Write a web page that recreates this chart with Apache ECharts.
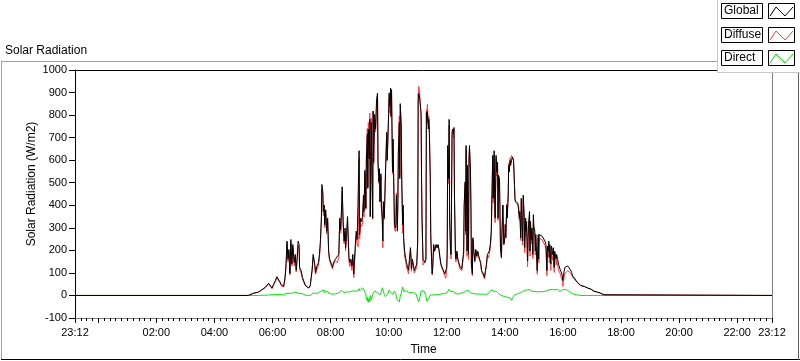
<!DOCTYPE html>
<html><head><meta charset="utf-8">
<script src="https://cdn.jsdelivr.net/npm/echarts@6/dist/echarts.min.js"></script>
<style>html,body{margin:0;padding:0;background:#fff}#c{width:800px;height:361px}</style>
</head><body><div id="c"></div>
<script>
// time in minutes from 00:00 (axis runs 23:12 of previous day -> 23:12)
const times = [-48,310,
311,321,331,338,345,352,356,359,362,366,
369,373,375,378,380,383,386,388,390,392,
394,396,398,400,402,405,407,409,411,413,
415,416,419,422,424,428,431,435,438,440,
442,444,447,449,452,455,457,459,461,462,
464,465,467,468,470,472,474,476,478,480,
482,484,486,490,
494,497,499,501,503,504,506,508,510,511,
513,515,518,520,522,524,526,528,529,531,
533,535,537,539,540,542,544,546,548,549,
551,553,554,556,557,558,560,561,562,564,
565,567,568,569,571,573,575,577,578,580,
581,582,584,585,587,588,589,591,593,594,
596,597,598,600,601,602,604,605,606,608,
609,611,612,614,615,616,618,619,620,622,
623,624,626,627,629,630,631,633,635,637,
639,641,643,645,646,647,649,651,653,656,
658,660,661,662,664,665,667,
668,669,671,673,675,677,678,679,680,682,
683,684,686,687,689,690,691,693,695,698,
700,702,704,706,708,710,712,714,716,718,
720,721,722,724,725,726,728,729,731,732,
734,735,736,738,739,741,743,745,747,749,
751,753,755,756,758,759,760,762,763,765,
766,767,769,770,771,773,774,776,778,780,
782,784,786,788,790,792,794,796,798,800,
802,804,806,808,810,812,813,815,816,818,
819,820,822,823,825,826,827,829,830,831,
833,834,836,837,838,840,841,842,844,845,
847,848,849,851,852,
854,856,858,860,861,862,864,867,869,870,
871,873,874,875,877,878,880,881,883,884,
885,887,888,889,891,892,893,895,896,898,
899,900,902,903,904,906,907,909,910,911,
913,915,917,919,921,923,925,927,928,929,
931,932,933,935,936,938,939,940,942,943,
945,946,947,949,950,951,953,954,956,957,
958,960,961,962,964,966,968,970,972,974,
976,978,980,982,985,987,990,993,997,1000,
1004,1007,1011,1014,1018,1021,1024,1028,1031,1035,
1038,1042,1045,1049,
1392];

const globalVals = [0,0,
0,10,15,25,36,54,48,33,48,66,
83,80,62,48,54,40,80,139,241,161,
204,98,248,139,226,146,182,112,168,241,
226,124,112,80,73,44,40,33,44,80,
117,182,146,102,131,146,182,241,343,492,
460,372,401,314,380,285,343,197,161,168,
139,124,146,161,
153,182,343,292,409,482,328,241,299,212,
270,350,168,146,161,131,182,95,146,219,
285,248,241,642,270,343,328,350,445,372,
555,387,606,716,475,738,606,781,350,767,
606,343,818,591,803,738,869,898,591,504,
562,416,540,394,343,241,416,343,504,577,
723,599,665,811,898,840,920,796,913,548,
694,445,314,299,314,445,285,401,621,767,
518,847,752,518,314,401,256,197,168,146,
124,112,161,212,182,117,161,139,110,102,
139,241,869,898,876,854,811,
518,343,161,153,146,161,811,767,818,738,
781,738,518,270,139,95,124,226,197,226,
212,226,204,168,139,131,117,110,95,88,
124,197,665,518,781,343,197,182,723,738,
716,745,445,182,161,197,161,146,131,124,
117,124,197,401,504,285,665,197,577,182,
606,665,562,401,139,95,256,197,153,204,
175,197,175,168,146,110,102,95,80,110,
139,182,175,197,226,285,401,621,431,642,
431,343,621,548,591,343,533,518,372,212,
168,270,401,299,226,256,314,256,401,343,
445,577,548,599,577,
599,613,599,489,431,419,416,409,401,343,
372,256,431,358,241,445,358,212,343,285,
328,153,256,314,372,197,328,248,299,182,
358,306,285,197,270,270,110,270,161,270,
277,270,263,263,256,241,226,110,219,197,
241,168,226,139,219,226,182,212,124,197,
190,161,182,161,168,139,139,117,110,124,
95,66,88,95,124,124,121,131,135,124,
112,102,88,80,73,66,58,51,44,41,
40,36,33,29,28,25,19,18,15,13,
10,6,3,0,
0];

const diffuseVals = [0,0,
0,10,15,24,35,52,44,30,44,62,
78,76,59,44,51,38,74,130,233,149,
194,91,234,130,214,131,172,104,156,221,
212,115,100,72,69,43,40,33,43,78,
111,170,136,94,116,134,164,227,323,470,
445,354,377,300,360,273,325,187,153,156,
129,118,138,154,
145,170,325,278,387,462,313,229,281,198,
254,328,153,128,147,111,158,79,126,191,
263,230,216,612,250,317,306,316,417,348,
541,382,616,741,483,768,621,809,350,787,
618,338,816,581,783,724,844,886,573,496,
547,414,528,388,309,211,396,338,509,587,
723,607,660,801,874,810,905,788,895,538,
690,433,294,284,306,455,305,413,646,796,
533,852,742,498,276,373,238,175,153,126,
112,96,149,194,168,107,147,127,100,94,
124,231,889,927,901,859,791,
490,313,135,133,134,161,826,792,847,758,
793,743,516,265,137,92,122,222,195,223,
210,222,201,166,134,123,111,100,87,76,
114,183,647,496,753,319,179,162,697,724,
698,733,435,174,149,187,155,138,119,114,
109,112,183,391,492,269,645,173,559,160,
590,651,550,393,129,87,250,189,147,199,
169,193,170,162,141,106,96,87,74,105,
131,176,167,185,211,260,372,599,411,624,
416,323,607,530,579,333,525,512,368,210,
168,268,401,302,228,261,317,262,405,351,
450,587,560,611,592,
621,623,603,487,427,413,408,401,391,333,
360,244,417,343,223,425,336,190,319,263,
304,127,228,285,346,175,308,228,280,164,
339,288,267,180,253,254,94,254,146,255,
261,253,247,245,239,222,206,88,195,171,
216,144,200,111,193,199,156,188,102,172,
163,135,158,134,140,113,117,99,94,104,
71,40,61,67,98,97,97,109,115,108,
100,92,80,74,69,63,56,50,44,41,
40,36,33,29,28,25,19,18,15,13,
10,6,3,0,
0];

const directVals = [0,0,
0,0,0,1,1,2,4,3,4,4,
5,4,3,4,3,2,6,9,8,12,
10,7,14,9,12,15,10,8,12,20,
14,9,12,8,4,1,0,0,1,2,
6,12,10,8,15,12,18,14,20,22,
15,18,24,14,20,12,18,10,8,12,
10,6,8,7,
8,12,18,14,22,20,15,12,18,14,
16,22,15,18,14,20,24,16,20,28,
22,18,25,30,20,26,22,34,28,24,
14,5,-10,-25,-8,-30,-15,-28,0,-20,
-12,5,2,10,20,14,25,12,18,8,
15,2,12,6,34,30,20,5,-5,-10,
0,-8,5,10,24,30,15,8,18,10,
4,12,20,15,8,-10,-20,-12,-25,-29,
-15,-5,10,20,38,28,18,22,15,20,
12,16,12,18,14,10,14,12,10,8,
15,10,-20,-29,-25,-5,20,
28,30,26,20,12,0,-15,-25,-29,-20,
-12,-5,2,5,2,3,2,4,2,3,
2,4,3,2,5,8,6,10,8,12,
10,14,18,22,28,24,18,20,26,14,
18,12,10,8,12,10,6,8,12,10,
8,12,14,10,12,16,20,24,18,22,
16,14,12,8,10,8,6,8,6,5,
6,4,5,6,5,4,6,8,6,5,
8,6,8,12,15,25,29,22,20,18,
15,20,14,18,12,10,8,6,4,2,
0,2,0,-3,-2,-5,-3,-6,-4,-8,
-5,-10,-12,-12,-15,
-22,-10,-4,2,4,6,8,8,10,10,
12,12,14,15,18,20,22,22,24,22,
24,26,28,29,26,22,20,20,19,18,
19,18,18,17,17,16,16,16,15,15,
16,17,16,18,17,19,20,22,24,26,
25,24,26,28,26,27,26,24,22,25,
27,26,24,27,28,26,22,18,16,20,
24,26,27,28,26,27,24,22,20,16,
12,10,8,6,4,3,2,1,0,0,
0,0,0,0,0,0,0,0,0,0,
0,0,0,0,
0];

const xMin = -48, xMax = 1392, minorStep = 12;
const xTickValues = [-48,0,120,240,360,480,600,720,840,960,1080,1200,1320,1392];
const xLabelValues = [-48,120,240,360,480,600,720,840,960,1080,1200,1320,1392];
const yMin = -100, yMax = 1000, yStep = 100;
const legendNames = ['Global','Diffuse','Direct'];
const legendColors = ['#000000','#ff3b3b','#00e600'];

function fmtTime(v){
  let m = ((v % 1440) + 1440) % 1440;
  const h = Math.floor(m/60), mm = Math.round(m%60);
  return String(h).padStart(2,'0') + ':' + String(mm).padStart(2,'0');
}
const pairs = arr => times.map((t,i)=>[t, arr[i]]);

const FONT = 'Liberation Sans';
const chart = echarts.init(document.getElementById('c'), null, {renderer:'canvas'});

const graphics = [
  {type:'line', z:50, shape:{x1:1.5,y1:61.5,x2:1.5,y2:359.5}, style:{stroke:'#a0a0a0',lineWidth:1}},
  {type:'line', z:50, shape:{x1:1,y1:61.5,x2:717,y2:61.5}, style:{stroke:'#a0a0a0',lineWidth:1}},
  {type:'line', z:50, shape:{x1:1,y1:359.5,x2:800,y2:359.5}, style:{stroke:'#000',lineWidth:1}},
  {type:'line', z:50, shape:{x1:798.5,y1:72,x2:798.5,y2:360}, style:{stroke:'#606060',lineWidth:1}},
  {type:'text', z:50, x:5, y:51, style:{text:'Solar Radiation', font:'12px '+FONT, fill:'#000', textVerticalAlign:'middle'}},
  {type:'text', z:50, x:32, y:184, rotation:Math.PI/2, style:{text:'Solar Radiation (W/m2)', font:'12px '+FONT, fill:'#000', textAlign:'center', textVerticalAlign:'middle'}},
  {type:'rect', z:60, shape:{x:717,y:0,width:83,height:72}, style:{fill:'#fff',stroke:null}},
  {type:'line', z:61, shape:{x1:717.5,y1:0,x2:717.5,y2:72.5}, style:{stroke:'#c8c8c8',lineWidth:1}},
  {type:'line', z:61, shape:{x1:717,y1:72.5,x2:800,y2:72.5}, style:{stroke:'#c8c8c8',lineWidth:1}}
];
const rowTops = [3, 27, 50];
legendNames.forEach((name, i) => {
  const y0 = rowTops[i];
  graphics.push({type:'rect', z:62, shape:{x:721.5,y:y0+0.5,width:41,height:15}, style:{fill:'#fff',stroke:'#000',lineWidth:1}});
  graphics.push({type:'text', z:63, x:724, y:y0+8, style:{text:name, font:'12px '+FONT, fill:'#000', textVerticalAlign:'middle'}});
  graphics.push({type:'rect', z:62, shape:{x:768.5,y:y0+0.5,width:26,height:15}, style:{fill:'#fff',stroke:'#000',lineWidth:1}});
  graphics.push({type:'polyline', z:63, shape:{points:[[770,y0+13],[776,y0+4],[785,y0+13],[793,y0+4]]}, style:{stroke:legendColors[i],lineWidth:1,fill:null}});
});

chart.setOption({
  animation:false,
  backgroundColor:'#fff',
  grid:{left:75, top:70, width:697, height:252, containLabel:false},
  xAxis:[
    {type:'value', min:xMin, max:xMax, position:'bottom',
     name:'Time', nameLocation:'middle', nameGap:26,
     nameTextStyle:{fontFamily:FONT, fontSize:12, color:'#000'},
     axisLine:{show:true, onZero:false, lineStyle:{color:'#808080', width:1}},
     axisTick:{show:true, length:5, customValues:xTickValues, lineStyle:{color:'#000'}},
     axisLabel:{show:true, customValues:xLabelValues, formatter:fmtTime, margin:9,
       fontFamily:FONT, fontSize:11, color:'#000', showMinLabel:true, showMaxLabel:true},
     splitLine:{show:false}},
    {type:'value', min:xMin, max:xMax, interval:minorStep, position:'bottom',
     axisLine:{show:false, onZero:false}, axisLabel:{show:false}, splitLine:{show:false},
     axisTick:{show:true, length:3, lineStyle:{color:'#000'}}},
    {type:'value', min:xMin, max:xMax, position:'top',
     axisLine:{show:true, onZero:false, lineStyle:{color:'#000', width:1}},
     axisTick:{show:false}, axisLabel:{show:false}, splitLine:{show:false}}
  ],
  yAxis:[
    {type:'value', min:yMin, max:yMax, interval:yStep, position:'left',
     axisLine:{show:true, onZero:false, lineStyle:{color:'#000', width:1}},
     axisTick:{show:true, length:6, lineStyle:{color:'#000'}},
     axisLabel:{margin:8, fontFamily:FONT, fontSize:11, color:'#000', formatter: v => String(v)},
     splitLine:{show:false}},
    {type:'value', min:yMin, max:yMax, interval:yStep, position:'right',
     axisLine:{show:true, onZero:false, lineStyle:{color:'#808080', width:1}},
     axisTick:{show:false}, axisLabel:{show:false}, splitLine:{show:false}}
  ],
  series:[
    {name:'Direct', type:'line', data:pairs(directVals), showSymbol:false, symbol:'none',
     lineStyle:{color:legendColors[2], width:1}, itemStyle:{color:legendColors[2]}, z:3},
    {name:'Diffuse', type:'line', data:pairs(diffuseVals), showSymbol:false, symbol:'none',
     lineStyle:{color:legendColors[1], width:1}, itemStyle:{color:legendColors[1]}, z:4},
    {name:'Global', type:'line', data:pairs(globalVals), showSymbol:false, symbol:'none',
     lineStyle:{color:legendColors[0], width:1}, itemStyle:{color:legendColors[0]}, z:5}
  ],
  graphic: graphics
});
</script></body></html>
